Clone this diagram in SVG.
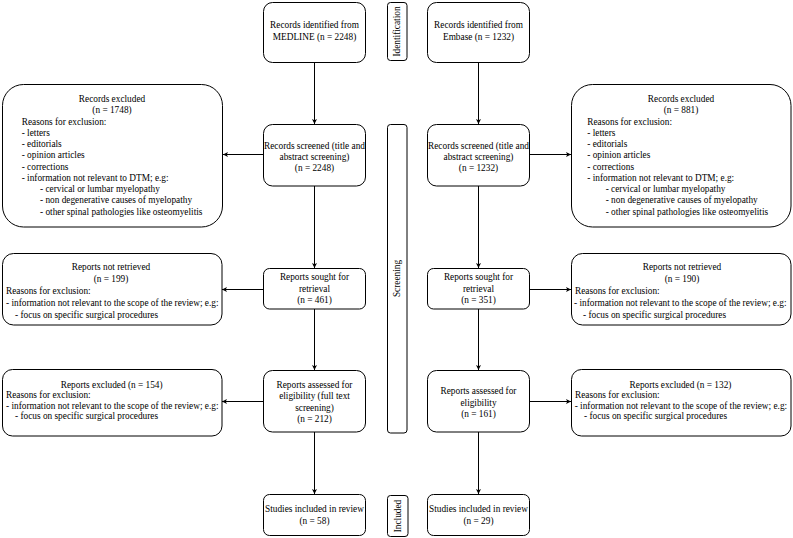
<svg xmlns="http://www.w3.org/2000/svg" width="793" height="538" viewBox="0 0 793 538">
<style>
.b{fill:#fff;stroke:#000;stroke-width:1}
text{font-family:"Liberation Serif","Times New Roman",serif;font-size:9.3px;fill:#000}
.c{text-anchor:middle}
.e{fill:none;stroke:#000;stroke-width:1;marker-end:url(#ah)}
</style>
<defs>
<marker id="ah" viewBox="0 0 10 10" refX="10" refY="5" markerWidth="5" markerHeight="5" markerUnits="userSpaceOnUse" orient="auto">
<path d="M0,0 L10,5 L0,10 L2.5,5 Z" fill="#000"/>
</marker>
</defs>
<rect width="793" height="538" fill="#fff"/>
<g id="connectors">
<path class="e" d="M314.5,63 V124"/>
<path class="e" d="M478.5,63 V124"/>
<path class="e" d="M263.5,154.5 H223"/>
<path class="e" d="M529.5,154.5 H571"/>
<path class="e" d="M314.5,186 V268"/>
<path class="e" d="M478.5,186 V268"/>
<path class="e" d="M263.5,289.5 H222"/>
<path class="e" d="M529.5,289.5 H571"/>
<path class="e" d="M314.5,309 V370"/>
<path class="e" d="M478.5,309 V370"/>
<path class="e" d="M263.5,401.5 H222"/>
<path class="e" d="M529.5,401.5 H571"/>
<path class="e" d="M314.5,432 V494"/>
<path class="e" d="M478.5,432 V494"/>
</g>
<g id="medline">
<rect class="b" x="263.5" y="2.5" width="102" height="60" rx="9"/>
<text class="c" x="314.5" y="28.4">Records identified from</text>
<text class="c" x="314.5" y="39.9">MEDLINE (n = 2248)</text>
</g>
<g id="embase">
<rect class="b" x="427.5" y="2.5" width="102" height="60" rx="9"/>
<text class="c" x="478.5" y="28.4">Records identified from</text>
<text class="c" x="478.5" y="39.9">Embase (n = 1232)</text>
</g>
<g id="identification">
<rect class="b" x="387.5" y="2.5" width="19.5" height="58" rx="3"/>
<text class="c" transform="translate(400.3,31.5) rotate(-90)">Identification</text>
</g>
<g id="screening">
<rect class="b" x="387.5" y="124.5" width="19.5" height="308.5" rx="3"/>
<text class="c" transform="translate(400.3,278.5) rotate(-90)">Screening</text>
</g>
<g id="included">
<rect class="b" x="387.5" y="495.5" width="20.5" height="41" rx="3"/>
<text class="c" transform="translate(400.8,516) rotate(-90)">Included</text>
</g>
<g id="screened-l">
<rect class="b" x="263.5" y="124.5" width="102" height="61.5" rx="9"/>
<text class="c" x="314.5" y="148.5">Records screened (title and</text>
<text class="c" x="314.5" y="159.8">abstract screening)</text>
<text class="c" x="314.5" y="171">(n = 2248)</text>
</g>
<g id="screened-r">
<rect class="b" x="427.5" y="124.5" width="102" height="61.5" rx="9"/>
<text class="c" x="478.5" y="148.5">Records screened (title and</text>
<text class="c" x="478.5" y="159.8">abstract screening)</text>
<text class="c" x="478.5" y="171">(n = 1232)</text>
</g>
<g id="excluded-l">
<rect class="b" x="2.5" y="84.5" width="220" height="142.5" rx="21"/>
<text class="c" x="112" y="102">Records excluded</text>
<text class="c" x="112" y="113.3">(n = 1748)</text>
<text x="21.7" y="124.5">Reasons for exclusion:</text>
<text x="21.7" y="135.8">- letters</text>
<text x="21.7" y="147.1">- editorials</text>
<text x="21.7" y="158.4">- opinion articles</text>
<text x="21.7" y="169.6">- corrections</text>
<text x="21.7" y="180.9">- information not relevant to DTM; e.g:</text>
<text x="40" y="192.2">- cervical or lumbar myelopathy</text>
<text x="40" y="203.4">- non degenerative causes of myelopathy</text>
<text x="40" y="214.7">- other spinal pathologies like osteomyelitis</text>
</g>
<g id="excluded-r">
<rect class="b" x="571.5" y="84.5" width="219.5" height="142.5" rx="21"/>
<text class="c" x="681" y="102">Records excluded</text>
<text class="c" x="681" y="113.3">(n = 881)</text>
<text x="587.3" y="124.5">Reasons for exclusion:</text>
<text x="587.3" y="135.8">- letters</text>
<text x="587.3" y="147.1">- editorials</text>
<text x="587.3" y="158.4">- opinion articles</text>
<text x="587.3" y="169.6">- corrections</text>
<text x="587.3" y="180.9">- information not relevant to DTM; e.g:</text>
<text x="605.7" y="192.2">- cervical or lumbar myelopathy</text>
<text x="605.7" y="203.4">- non degenerative causes of myelopathy</text>
<text x="605.7" y="214.7">- other spinal pathologies like osteomyelitis</text>
</g>
<g id="sought-l">
<rect class="b" x="263.5" y="268.5" width="102" height="40.5" rx="6"/>
<text class="c" x="314.5" y="280.2">Reports sought for</text>
<text class="c" x="314.5" y="291.5">retrieval</text>
<text class="c" x="314.5" y="302.8">(n = 461)</text>
</g>
<g id="sought-r">
<rect class="b" x="427.5" y="268.5" width="102" height="40.5" rx="6"/>
<text class="c" x="478.5" y="280.2">Reports sought for</text>
<text class="c" x="478.5" y="291.5">retrieval</text>
<text class="c" x="478.5" y="302.8">(n = 351)</text>
</g>
<g id="notretrieved-l">
<rect class="b" x="2.5" y="253.5" width="219.5" height="71.5" rx="11"/>
<text class="c" x="111" y="270.4">Reports not retrieved</text>
<text class="c" x="111" y="282.2">(n = 199)</text>
<text x="6" y="294">Reasons for exclusion:</text>
<text x="6" y="305.8">- information not relevant to the scope of the review; e.g:</text>
<text x="15" y="317.6">- focus on specific surgical procedures</text>
</g>
<g id="notretrieved-r">
<rect class="b" x="571.5" y="253.5" width="219.5" height="71.5" rx="11"/>
<text class="c" x="682" y="270.4">Reports not retrieved</text>
<text class="c" x="682" y="282.2">(n = 190)</text>
<text x="575" y="294">Reasons for exclusion:</text>
<text x="574" y="305.8">- information not relevant to the scope of the review; e.g:</text>
<text x="583" y="317.6">- focus on specific surgical procedures</text>
</g>
<g id="assessed-l">
<rect class="b" x="263.5" y="370.5" width="102" height="61.5" rx="9"/>
<text class="c" x="314.5" y="388">Reports assessed for</text>
<text class="c" x="314.5" y="399.3">eligibility (full text</text>
<text class="c" x="314.5" y="410.6">screening)</text>
<text class="c" x="314.5" y="421.9">(n = 212)</text>
</g>
<g id="assessed-r">
<rect class="b" x="427.5" y="370.5" width="102" height="61.5" rx="9"/>
<text class="c" x="478.5" y="394">Reports assessed for</text>
<text class="c" x="478.5" y="405.5">eligibility</text>
<text class="c" x="478.5" y="417">(n = 161)</text>
</g>
<g id="reportsexcluded-l">
<rect class="b" x="2.5" y="369.5" width="219.5" height="66.5" rx="10"/>
<text class="c" x="111.7" y="388">Reports excluded (n = 154)</text>
<text x="6" y="398.4">Reasons for exclusion:</text>
<text x="6" y="408.8">- information not relevant to the scope of the review; e.g:</text>
<text x="15" y="419.2">- focus on specific surgical procedures</text>
</g>
<g id="reportsexcluded-r">
<rect class="b" x="571.5" y="369.5" width="219.5" height="66.5" rx="10"/>
<text class="c" x="680.5" y="388">Reports excluded (n = 132)</text>
<text x="575" y="398.4">Reasons for exclusion:</text>
<text x="574.7" y="408.8">- information not relevant to the scope of the review; e.g:</text>
<text x="584" y="419.2">- focus on specific surgical procedures</text>
</g>
<g id="studies-l">
<rect class="b" x="263.5" y="494.5" width="102" height="41" rx="6"/>
<text class="c" x="314.5" y="512.3">Studies included in review</text>
<text class="c" x="314.5" y="523.8">(n = 58)</text>
</g>
<g id="studies-r">
<rect class="b" x="427.5" y="494.5" width="102" height="41" rx="6"/>
<text class="c" x="478.5" y="512.3">Studies included in review</text>
<text class="c" x="478.5" y="523.8">(n = 29)</text>
</g>
</svg>
